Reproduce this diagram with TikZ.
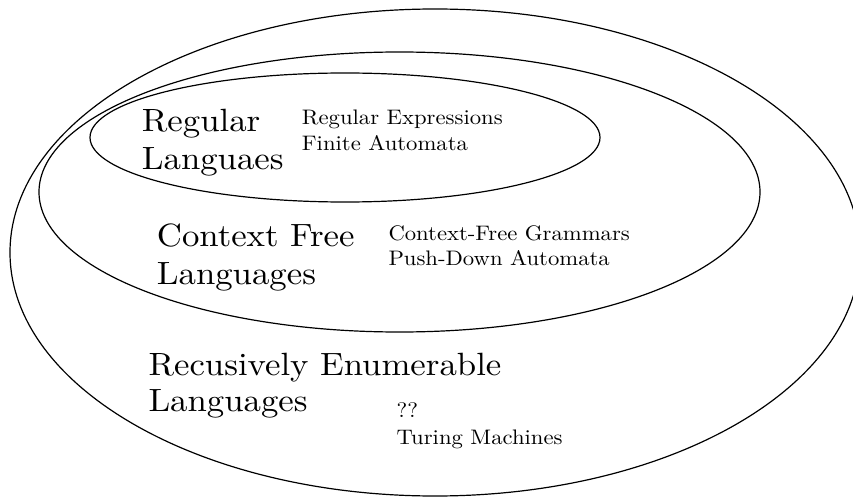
\documentclass[tikz,border=0pt]{standalone}
\usepackage{fontspec}
\setmainfont{lmroman10-regular.otf}[FakeStretch=1.08]
\begin{document}
\begin{tikzpicture}[x=1pt,y=-1pt,
  setline/.style={line width=1.2pt},
  bigtext/.style={anchor=base west,inner sep=0pt,font=\fontsize{32.2}{38}\selectfont},
  smalltext/.style={anchor=base west,inner sep=0pt,font=\fontsize{21}{26}\selectfont}]
\useasboundingbox (0,0) rectangle (853,497);
\clip (0,0) rectangle (853,497);

% nested language classes
\draw[setline] (435,252.5) ellipse [x radius=425pt, y radius=243.5pt];
\draw[setline] (399.5,192) ellipse [x radius=360.5pt, y radius=140pt];
\draw[setline] (345,137.5) ellipse [x radius=255pt, y radius=64.5pt];

% regular languages
\node[bigtext]   (regA) at (141.7,131.7) {Regular};
\node[bigtext]   (regB) at (141.7,170)   {Languaes};
\node[smalltext] (regC) at (301.7,124.3) {Regular Expressions};
\node[smalltext] (regD) at (301.7,150.7) {Finite Automata};

% context free languages
\node[bigtext]   (cfA) at (156.7,246.7) {Context Free};
\node[bigtext]   (cfB) at (156.7,284)   {Languages};
\node[smalltext] (cfC) at (388.3,240)   {Context-Free Grammars};
\node[smalltext] (cfD) at (388.3,265)   {Push-Down Automata};

% recursively enumerable languages
\node[bigtext]   (reA) at (148.3,375)   {Recusively Enumerable};
\node[bigtext]   (reB) at (148.3,411.7) {Languages};
\node[smalltext] (reC) at (396.5,417)   {??};
\node[smalltext] (reD) at (396.5,444)   {Turing Machines};
\end{tikzpicture}
\end{document}
